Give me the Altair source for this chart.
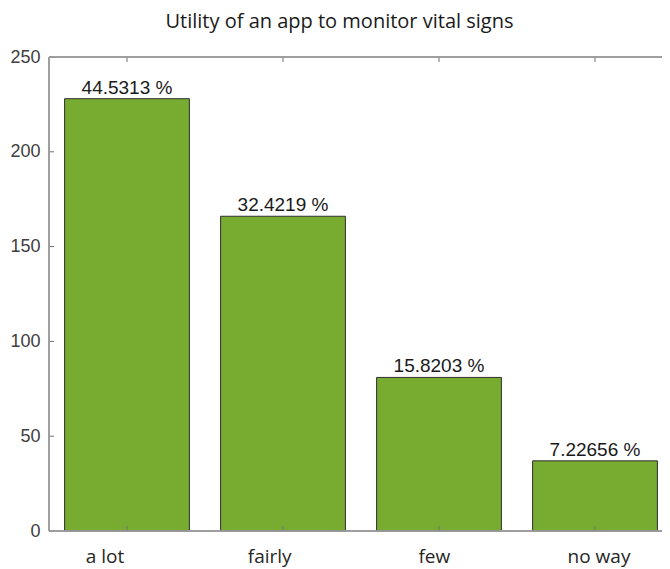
import altair as alt
import pandas as pd

categories = ["a lot", "fairly", "few", "no way"]
counts = [228, 166, 81, 37]
pct_labels = ["44.5313 %", "32.4219 %", "15.8203 %", "7.22656 %"]
y_ticks = [0, 50, 100, 150, 200, 250]

W, H = 613, 474   # visible plot area (the reference's right edge is cut off)
XR = 624          # full band range of the original axes

df = pd.DataFrame({"cat": categories, "count": counts, "label": pct_labels})
tick_df = pd.DataFrame({"v": y_ticks})

xscale = alt.Scale(domain=categories, range=[0, XR], paddingInner=0.2, paddingOuter=0.1)
yscale = alt.Scale(domain=[0, 250], nice=False)
# category labels in the reference sit on a slightly wider spacing than the bars
label_scale = alt.Scale(type="point", domain=categories, range=[56, 550], padding=0)

y_axis = alt.Axis(title=None, ticks=False, tickSize=0, domain=False, grid=False,
                  values=y_ticks, labelFont="Liberation Sans", labelFontSize=18,
                  labelColor="#404040", labelPadding=9)

X = alt.X("cat:N", sort=categories, scale=xscale, axis=None)

bars = alt.Chart(df).mark_bar(color="#77AC30", stroke="#2f2f2f", strokeWidth=1).encode(
    x=X,
    y=alt.Y("count:Q", scale=yscale, axis=y_axis),
)

text = alt.Chart(df).mark_text(baseline="alphabetic", dy=-5, font="Liberation Sans",
                               fontSize=19, color="#1a1a1a").encode(
    x=X,
    y=alt.Y("count:Q", scale=yscale, axis=y_axis),
    text="label:N",
)

tick_color = "#6e6e6e"
frame_color = "#999999"
left_ticks = alt.Chart(tick_df).mark_rule(color=tick_color, strokeWidth=1).encode(
    y=alt.Y("v:Q", scale=yscale, axis=y_axis), x=alt.value(0), x2=alt.value(5))
bottom_ticks = alt.Chart(df).mark_rule(color=tick_color, strokeWidth=1).encode(
    x=X, y=alt.value(H), y2=alt.value(H - 5))
top_ticks = alt.Chart(df).mark_rule(color=tick_color, strokeWidth=1).encode(
    x=X, y=alt.value(0), y2=alt.value(5))

frame_left = alt.Chart(df).mark_rule(color=frame_color, strokeWidth=1).encode(
    x=alt.value(0), y=alt.value(0), y2=alt.value(H))
frame_top = alt.Chart(df).mark_rule(color=frame_color, strokeWidth=1).encode(
    y=alt.value(0), x=alt.value(0), x2=alt.value(W + 10))
frame_bottom = alt.Chart(df).mark_rule(color=frame_color, strokeWidth=1).encode(
    y=alt.value(H), x=alt.value(0), x2=alt.value(W + 10))

plot = alt.layer(bars, text, left_ticks, bottom_ticks, top_ticks,
                 frame_left, frame_top, frame_bottom)

cat_labels = alt.Chart(df).mark_text(baseline="alphabetic", font="Open Sans", fontSize=19,
                                     color="#262626").encode(
    x=alt.X("cat:N", sort=categories, scale=label_scale, axis=None),
    y=alt.value(H + 32),
    text="cat:N",
)

chart = alt.layer(plot, cat_labels).resolve_scale(x="independent").properties(
    width=W, height=H,
    title=alt.TitleParams("Utility of an app to monitor vital signs", font="Open Sans",
                          fontSize=20, fontWeight="normal", color="#1a1a1a",
                          anchor="middle", dx=-16, offset=16),
    autosize=alt.AutoSizeParams(type="none"),
    padding={"left": 41, "top": 49, "right": 0, "bottom": 37},
).configure_view(stroke=None).configure(background="white")

chart.save("out.html", embed_options={"renderer": "svg", "actions": False})
